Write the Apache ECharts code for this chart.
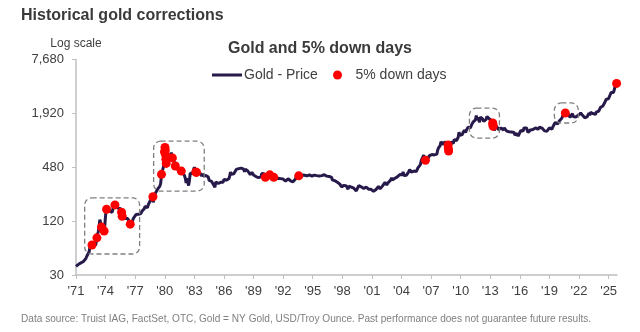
<!DOCTYPE html>
<html>
<head>
<meta charset="utf-8">
<script src="https://cdn.jsdelivr.net/npm/echarts@6/dist/echarts.min.js"></script>
<style>
  html, body { margin: 0; padding: 0; background: #fff; }
  #main { width: 640px; height: 332px; }
</style>
</head>
<body>
<div id="main"></div>
<script>
// monthly gold price, Jan 1971 onward (USD/oz)
var firstYear = 1971;
var goldMonthly = [
  37.5, 38.5, 38.9, 39.5, 40.5, 40.1, 41.0, 42.7, 42.0, 42.5, 43.0, 43.6, // 1971
  45.8, 48.3, 48.3, 49.0, 54.6, 62.0, 65.7, 67.0, 65.5, 64.9, 62.9, 64.9, // 1972
  65.1, 74.2, 84.5, 90.5, 102, 125, 115, 103, 100, 100, 92, 106,         // 1973
  139, 165, 168, 172, 163, 154, 154, 154, 151, 158, 181, 185,             // 1974
  180, 180, 177, 167, 167, 165, 166, 160, 135, 143, 139, 140,             // 1975
  128, 132, 129, 128, 125, 123, 112, 104, 116, 123, 130, 134,             // 1976
  132, 142, 148, 149, 143, 140, 144, 146, 154, 162, 161, 165,             // 1977
  175, 182, 181, 170, 184, 183, 200, 208, 217, 242, 194, 226,             // 1978
  233, 251, 240, 246, 279, 277, 296, 315, 397, 382, 415, 512,             // 1979
  850, 660, 500, 515, 535, 653, 614, 631, 700, 629, 619, 590,             // 1980
  506, 489, 513, 482, 480, 422, 410, 425, 440, 427, 414, 397,             // 1981
  387, 362, 320, 361, 325, 300, 342, 411, 397, 423, 409, 448,             // 1982
  481, 500, 415, 429, 437, 413, 423, 414, 405, 382, 405, 382,             // 1983
  373, 394, 388, 375, 384, 373, 342, 348, 343, 333, 329, 309,             // 1984
  306, 287, 329, 321, 315, 317, 327, 333, 326, 325, 325, 327,             // 1985
  350, 339, 346, 345, 342, 346, 357, 384, 423, 401, 383, 391,             // 1986
  405, 406, 421, 454, 459, 447, 463, 453, 460, 469, 492, 484,             // 1987
  458, 426, 457, 449, 455, 436, 437, 430, 397, 412, 420, 410,             // 1988
  394, 387, 384, 377, 362, 373, 368, 359, 367, 375, 408, 401,             // 1989
  415, 407, 368, 367, 363, 352, 372, 387, 408, 380, 384, 386,             // 1990
  366, 363, 355, 357, 360, 368, 362, 347, 354, 358, 366, 353,             // 1991
  354, 353, 341, 336, 337, 343, 357, 340, 349, 339, 334, 333,             // 1992
  330, 327, 338, 354, 378, 378, 401, 371, 355, 370, 370, 392,             // 1993
  377, 381, 391, 377, 387, 385, 384, 386, 394, 383, 383, 383,             // 1994
  375, 376, 392, 389, 385, 387, 383, 382, 384, 383, 387, 387,             // 1995
  405, 400, 396, 392, 391, 382, 385, 387, 379, 379, 371, 369,             // 1996
  345, 358, 349, 340, 345, 334, 326, 325, 333, 311, 296, 290,             // 1997
  302, 297, 301, 310, 293, 296, 288, 273, 294, 292, 294, 288,             // 1998
  287, 287, 280, 286, 268, 261, 255, 255, 299, 299, 292, 290,             // 1999
  287, 294, 278, 276, 272, 288, 276, 277, 273, 265, 270, 272,             // 2000
  265, 267, 258, 264, 268, 271, 266, 273, 293, 279, 275, 277,             // 2001
  282, 297, 302, 308, 326, 318, 304, 312, 324, 316, 317, 347,             // 2002
  367, 347, 334, 336, 361, 346, 354, 375, 388, 386, 398, 416,             // 2003
  400, 396, 427, 387, 395, 395, 391, 408, 416, 428, 452, 438,             // 2004
  422, 435, 427, 435, 417, 435, 429, 433, 473, 470, 496, 513,             // 2005
  568, 556, 582, 654, 643, 575, 632, 623, 599, 604, 646, 632,             // 2006
  650, 665, 662, 679, 659, 650, 665, 673, 743, 789, 783, 834,             // 2007
  923, 971, 933, 865, 885, 930, 918, 833, 884, 730, 815, 870,             // 2008
  919, 942, 917, 884, 975, 927, 955, 956, 996, 1040, 1182, 1088,          // 2009
  1081, 1119, 1113, 1180, 1208, 1245, 1169, 1248, 1307, 1347, 1384, 1405, // 2010
  1327, 1410, 1439, 1535, 1536, 1505, 1628, 1813, 1620, 1722, 1746, 1531, // 2011
  1744, 1770, 1662, 1651, 1558, 1598, 1622, 1648, 1776, 1720, 1726, 1657, // 2012
  1664, 1578, 1598, 1469, 1394, 1234, 1314, 1396, 1326, 1324, 1253, 1204, // 2013
  1244, 1326, 1292, 1288, 1250, 1322, 1285, 1285, 1217, 1164, 1182, 1199, // 2014
  1260, 1214, 1187, 1180, 1190, 1172, 1098, 1135, 1115, 1142, 1065, 1060, // 2015
  1118, 1234, 1233, 1290, 1215, 1322, 1342, 1309, 1322, 1272, 1178, 1146, // 2016
  1211, 1255, 1245, 1268, 1266, 1242, 1269, 1322, 1283, 1271, 1275, 1303, // 2017
  1345, 1318, 1325, 1316, 1298, 1250, 1224, 1201, 1187, 1215, 1221, 1279, // 2018
  1321, 1313, 1292, 1283, 1305, 1409, 1427, 1520, 1485, 1512, 1464, 1515, // 2019
  1582, 1609, 1577, 1694, 1730, 1768, 1962, 1968, 1886, 1880, 1777, 1891, // 2020
  1848, 1734, 1708, 1768, 1906, 1770, 1814, 1814, 1743, 1783, 1775, 1829, // 2021
  1796, 1909, 1937, 1897, 1838, 1807, 1766, 1711, 1661, 1634, 1768, 1812, // 2022
  1928, 1827, 1969, 1990, 1962, 1912, 1965, 1940, 1871, 1983, 2036, 2063, // 2023
  2040, 2044, 2230, 2286, 2327, 2327, 2448, 2503, 2635, 2744, 2650, 2625, // 2024
  2813, 2858, 3124, 3289, 3289, 3303, 3290, 3448, 3858, 4000              // 2025
];
// last few trading days, [decimal year, price]
var goldTail = [[2025.78, 4250], [2025.80, 4350], [2025.81, 4150]];

// 5% down days, [decimal year, price]
var downDays = [
  [1972.62, 65], [1973.12, 78], [1973.58, 103], [1973.85, 93],
  [1974.10, 163], [1974.95, 182], [1975.62, 151], [1975.68, 136], [1976.50, 111],
  [1978.80, 225], [1979.67, 400], [1979.97, 710], [1980.02, 800], [1980.05, 740],
  [1980.08, 660], [1980.11, 590], [1980.15, 530], [1980.77, 610], [1981.07, 495],
  [1981.68, 435], [1983.15, 425], [1983.22, 420],
  [1990.20, 370], [1990.65, 395], [1991.05, 370], [1993.58, 385],
  [2006.43, 575], [2008.72, 850], [2008.75, 780], [2008.78, 730],
  [2013.25, 1500], [2013.27, 1440], [2013.29, 1380],
  [2020.61, 1940], [2025.81, 4150]
];

// highlighted correction periods: [fromYear, toYear, lowPrice, highPrice]
var boxes = [
  [1971.88, 1977.45, 51.5, 218],
  [1978.87, 1984.0, 260, 939],
  [2010.89, 2013.93, 1017, 2200],
  [2019.5, 2021.93, 1498, 2510]
];

var xTicks = [1971, 1974, 1977, 1980, 1983, 1986, 1989, 1992, 1995, 1998, 2001, 2004, 2007, 2010, 2013, 2016, 2019, 2022, 2025];
var yTicks = [30, 120, 480, 1920, 7680];

var font = 'Liberation Sans, Arial, sans-serif';

var lineData = goldMonthly.map(function (v, i) { return [firstYear + i / 12, v]; }).concat(goldTail);

var myChart = echarts.init(document.getElementById('main'));

var option = {
  animation: false,
  textStyle: { fontFamily: font },
  title: [
    { text: 'Historical gold corrections', left: 16, top: 3,
      textStyle: { fontSize: 16, fontWeight: 'bold', color: '#3a3a3a', fontFamily: font } },
    { text: 'Gold and 5% down days', left: 'center', top: 36,
      textStyle: { fontSize: 16, fontWeight: 'bold', color: '#3a3a3a', fontFamily: font } },
    { text: 'Data source: Truist IAG, FactSet, OTC, Gold = NY Gold, USD/Troy Ounce. Past performance does not guarantee future results.',
      left: 16, top: 309,
      textStyle: { fontSize: 10.1, fontWeight: 'normal', color: '#7f7f7f', fontFamily: font } }
  ],
  legend: [
    { data: [{ name: 'Gold - Price', icon: 'rect' }], left: 207, top: 63,
      itemWidth: 30, itemHeight: 3, itemGap: 0,
      textStyle: { fontSize: 14, color: '#404040', fontFamily: font, padding: [0, 0, 0, -3] } },
    { data: [{ name: '5% down days', icon: 'circle' }], left: 328, top: 63,
      itemWidth: 26, itemHeight: 9,
      textStyle: { fontSize: 14, color: '#404040', fontFamily: font } }
  ],
  grid: { left: 76, right: 23, top: 59.5, bottom: 57 },
  xAxis: {
    type: 'value', min: 1971, max: 2025.85,
    splitLine: { show: false },
    axisLine: { lineStyle: { color: '#bfbfbf', width: 1.5 } },
    axisTick: { show: true, length: 4, customValues: xTicks, lineStyle: { color: '#bfbfbf' } },
    axisLabel: {
      customValues: xTicks, margin: 10, fontSize: 13, color: '#404040', fontFamily: font,
      formatter: function (v) { return "'" + String(Math.round(v)).slice(2); }
    }
  },
  yAxis: {
    type: 'log', logBase: 4, min: 30, max: 7680,
    name: 'Log scale', nameLocation: 'end', nameGap: 10,
    nameTextStyle: { fontSize: 12, color: '#404040', fontFamily: font },
    splitLine: { show: false },
    axisLine: { show: true, lineStyle: { color: '#bfbfbf', width: 1.5 } },
    axisTick: { show: true, length: 4, customValues: yTicks, lineStyle: { color: '#bfbfbf' } },
    axisLabel: {
      customValues: yTicks, margin: 12, fontSize: 13, color: '#404040', fontFamily: font,
      formatter: function (v) { return Math.round(v).toLocaleString('en-US'); }
    }
  },
  series: [
    {
      name: 'Gold - Price', type: 'line', data: lineData,
      showSymbol: false, symbol: 'none', z: 2,
      itemStyle: { color: '#27194a' },
      lineStyle: { color: '#27194a', width: 3 }
    },
    {
      name: '5% down days', type: 'scatter', data: downDays,
      symbolSize: 9, z: 3,
      itemStyle: { color: '#ff0000', opacity: 1 }
    }
  ]
};

myChart.setOption(option);

// dashed boxes around the correction periods
var rects = boxes.map(function (b) {
  var p0 = myChart.convertToPixel({ xAxisIndex: 0, yAxisIndex: 0 }, [b[0], b[3]]);
  var p1 = myChart.convertToPixel({ xAxisIndex: 0, yAxisIndex: 0 }, [b[1], b[2]]);
  return {
    type: 'rect', z: 10, silent: true,
    shape: { x: p0[0], y: p0[1], width: p1[0] - p0[0], height: p1[1] - p0[1], r: 7 },
    style: { fill: 'none', stroke: '#7f7f7f', lineWidth: 1.3, lineDash: [5, 3] }
  };
});
myChart.setOption({ graphic: rects });

window.onresize = () => {
  myChart.resize()
}
</script>
</body>
</html>
